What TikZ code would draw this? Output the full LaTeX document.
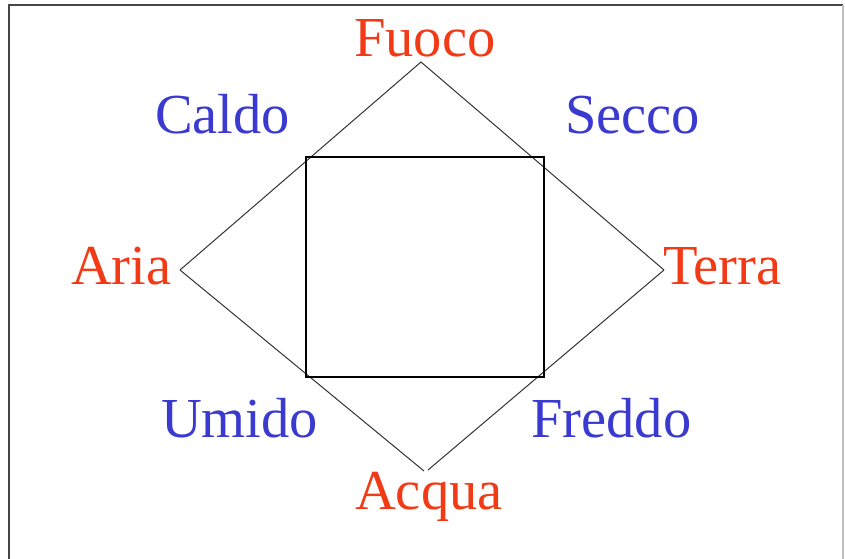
\documentclass[tikz,border=0pt]{standalone}
\usepackage{fontspec}
\setmainfont{Liberation Serif}
\definecolor{elemred}{RGB}{242,58,22}
\definecolor{qualblue}{RGB}{58,58,208}
\definecolor{framegray}{RGB}{70,70,70}
\tikzset{
  lbl/.style={anchor=base west,inner sep=0pt,font=\fontsize{56.5}{60}\selectfont},
  elem/.style={lbl,text=elemred},
  qual/.style={lbl,text=qualblue},
  edge/.style={draw=black!80,line width=1pt},
  box/.style={draw=black,line width=1.5pt}
}
\begin{document}
\begin{tikzpicture}[x=1pt,y=-1pt]
\useasboundingbox (0,0) rectangle (845,558);
\fill[white] (0,0) rectangle (845,558);
% frame
\draw[framegray,line width=2pt] (9,560) -- (9,5) -- (843,5);
\draw[black!25,line width=1.5pt] (843,5) -- (843,560);
% diamond vertices
\coordinate (top) at (421,62);
\coordinate (left) at (180,270);
\coordinate (right) at (664,270);
\coordinate (botL) at (424,471);
\coordinate (botR) at (428,470);
\draw[edge] (left) -- (top) -- (right);
\draw[edge] (left) -- (botL);
\draw[edge] (right) -- (botR);
% square
\coordinate (sqA) at (306,157);
\coordinate (sqB) at (544,377);
\draw[box] (sqA) rectangle (sqB);
% labels
\node[elem] (fuoco) at (354,56) {Fuoco};
\node[elem] (aria) at (71,284) {Aria};
\node[elem] (terra) at (663,284) {Terra};
\node[elem] (acqua) at (355,509) {Acqua};
\node[qual] (caldo) at (155,133) {Caldo};
\node[qual] (secco) at (565,133) {Secco};
\node[qual] (umido) at (161,437) {Umido};
\node[qual] (freddo) at (531,437) {Freddo};
\end{tikzpicture}
\end{document}
